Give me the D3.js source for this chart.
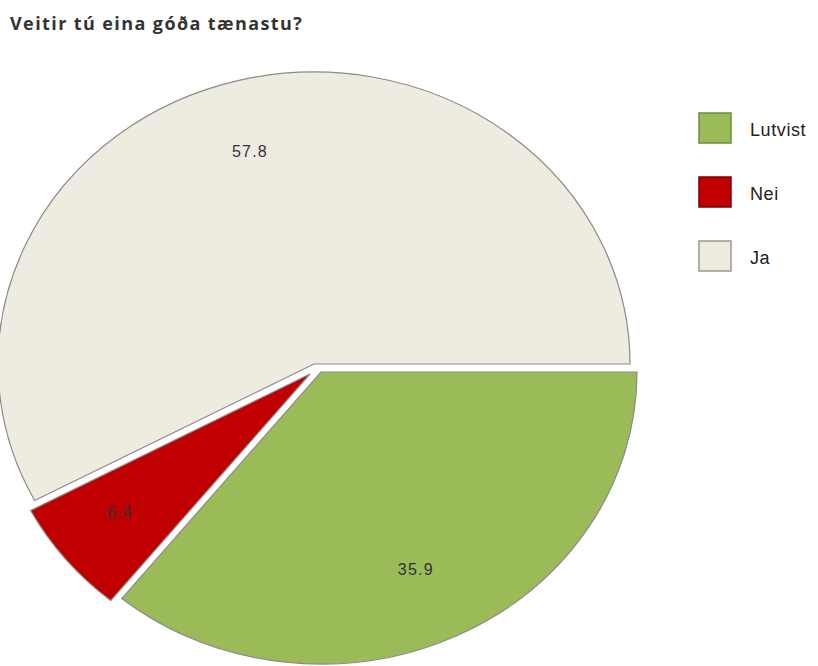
<!DOCTYPE html>
<html><head><meta charset="utf-8">
<script src="https://cdn.jsdelivr.net/npm/d3@7"></script>
<style>body{margin:0;background:#fff}</style>
</head><body>
<script>
const title = "Veitir tú eina góða tænastu?";
const categories = ["Lutvist", "Nei", "Ja"];
const values = [35.9, 6.4, 57.8];
const labels = ["35.9", "6.4", "57.8"];
const colors = ["#9BBB59", "#C00000", "#EEECE1"];
const legendStroke = ["#6f8a3a", "#7a0000", "#9a9a90"];
// explode offsets of each slice (style)
const offsets = [[7, 8], [-4, 10], [0, 0]];

const W = 818, H = 666;
const svg = d3.select("body").append("svg").attr("width", W).attr("height", H)
  .style("font-family", "'Liberation Sans', Arial, sans-serif");

svg.append("text").attr("x", 10).attr("y", 30)
  .attr("font-size", 18).attr("font-weight", "bold").attr("fill", "#333")
  .attr("letter-spacing", "1.4")
  .style("font-family", "'Open Sans', sans-serif")
  .text(title);

const cx = 314, cy = 364, rx = 316, ry = 292;
const k = ry / rx;
const pie = d3.pie().sort(null).startAngle(Math.PI / 2).endAngle(Math.PI / 2 + 2 * Math.PI);
const arcs = pie(values);
const arc = d3.arc().innerRadius(0).outerRadius(rx);

arcs.forEach((a, i) => {
  const [ox, oy] = offsets[i];
  svg.append("path").attr("d", arc(a))
    .attr("transform", `translate(${cx + ox},${cy + oy}) scale(1,${k})`)
    .attr("fill", colors[i]).attr("stroke", "#8a8a8a").attr("stroke-width", 1.2)
    .attr("vector-effect", "non-scaling-stroke");
});
arcs.forEach((a, i) => {
  const [ox, oy] = offsets[i];
  const mid = (a.startAngle + a.endAngle) / 2;
  const t = 0.75;
  const x = cx + ox - 7 + Math.sin(mid) * rx * t;
  const y = cy + oy - Math.cos(mid) * ry * t;
  svg.append("text").attr("x", x).attr("y", y).attr("text-anchor", "middle")
    .attr("dominant-baseline", "central").attr("font-size", 16).attr("fill", "#333")
    .attr("letter-spacing", "1.2")
    .text(labels[i]);
});

const lg = svg.append("g").attr("transform", "translate(699,113)");
categories.forEach((c, i) => {
  const row = lg.append("g").attr("transform", `translate(0,${i * 64})`);
  row.append("rect").attr("width", 32).attr("height", 30).attr("fill", colors[i])
    .attr("stroke", legendStroke[i]).attr("stroke-width", 1.5);
  row.append("text").attr("x", 51).attr("y", 17).attr("dominant-baseline", "central")
    .attr("font-size", 18).attr("fill", "#222").attr("letter-spacing", "0.6").text(c);
});
</script>
</body></html>
